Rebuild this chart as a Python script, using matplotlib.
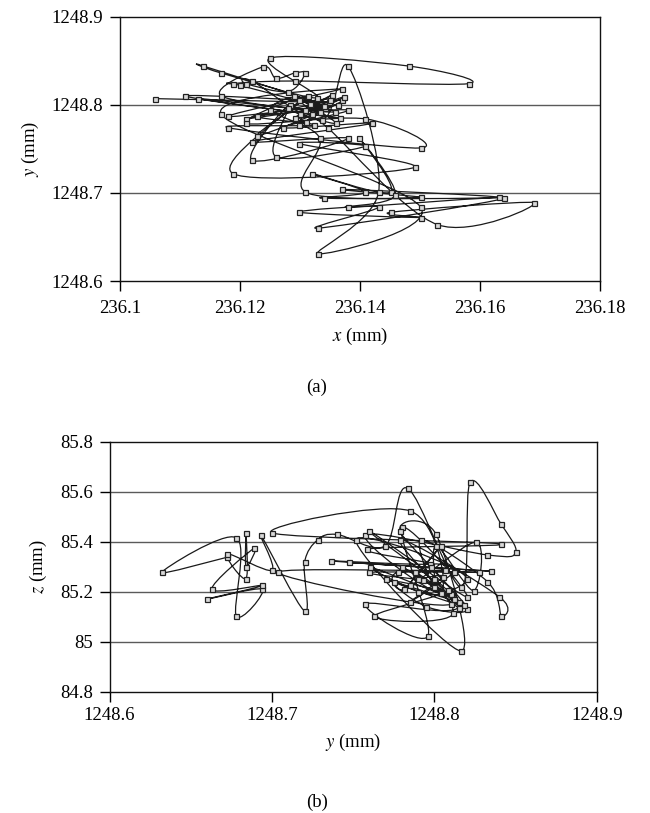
import numpy as np
import matplotlib
matplotlib.use("Agg")
import matplotlib.pyplot as plt
from matplotlib.path import Path
from matplotlib.patches import PathPatch
from matplotlib.ticker import FuncFormatter

plt.rcParams['font.family'] = ['Liberation Serif', 'DejaVu Serif']
plt.rcParams['mathtext.fontset'] = 'stix'

# (a) x-y trajectory, points in drawing order
x_a = [236.1059, 236.1349, 236.1109, 236.1366, 236.1130, 236.1341, 236.1139, 236.1169,
       236.1329, 236.1250, 236.1481, 236.1581, 236.1291, 236.1188, 236.1200, 236.1358,
       236.1169, 236.1238, 236.1260, 236.1291, 236.1309, 236.1280, 236.1210, 236.1220,
       236.1336, 236.1380, 236.1431, 236.1330, 236.1501, 236.1169, 236.1370, 236.1180,
       236.1363, 236.1210, 236.1370, 236.1229, 236.1313, 236.1210, 236.1409, 236.1501,
       236.1180, 236.1324, 236.1229, 236.1380, 236.1272, 236.1420, 236.1220, 236.1380,
       236.1220, 236.1283, 236.1260, 236.1409, 236.1299, 236.1491, 236.1188, 236.1299,
       236.1250, 236.1333, 236.1309, 236.1501, 236.1370, 236.1631, 236.1340, 236.1409,
       236.1320, 236.1451, 236.1399, 236.1459, 236.1380, 236.1640, 236.1330, 236.1431,
       236.1299, 236.1501, 236.1451, 236.1690, 236.1529, 236.1346, 236.1319, 236.1374,
       236.1308, 236.1353, 236.1291, 236.1333, 236.1316, 236.1299, 236.1320, 236.1290,
       236.1360, 236.1280, 236.1350, 236.1310, 236.1340, 236.1300]
y_a = [1248.807, 1248.803, 1248.810, 1248.785, 1248.807, 1248.796, 1248.844, 1248.836,
       1248.808, 1248.853, 1248.844, 1248.824, 1248.827, 1248.824, 1248.822, 1248.792,
       1248.810, 1248.843, 1248.830, 1248.836, 1248.836, 1248.815, 1248.824, 1248.827,
       1248.783, 1248.844, 1248.701, 1248.631, 1248.684, 1248.789, 1248.818, 1248.787,
       1248.800, 1248.784, 1248.805, 1248.765, 1248.810, 1248.779, 1248.784, 1248.751,
       1248.774, 1248.777, 1248.787, 1248.794, 1248.774, 1248.779, 1248.758, 1248.762,
       1248.737, 1248.800, 1248.741, 1248.753, 1248.756, 1248.729, 1248.722, 1248.805,
       1248.794, 1248.762, 1248.701, 1248.695, 1248.704, 1248.695, 1248.694, 1248.701,
       1248.722, 1248.701, 1248.762, 1248.698, 1248.684, 1248.694, 1248.660, 1248.684,
       1248.678, 1248.672, 1248.678, 1248.689, 1248.664, 1248.774, 1248.788, 1248.809,
       1248.794, 1248.811, 1248.785, 1248.792, 1248.801, 1248.777, 1248.790, 1248.810,
       1248.779, 1248.796, 1248.806, 1248.781, 1248.799, 1248.790]

# (b) y-z trajectory
y_b = [1248.6725, 1248.632, 1248.678, 1248.678, 1248.694, 1248.660, 1248.694, 1248.663,
       1248.689, 1248.684, 1248.684, 1248.684, 1248.6725, 1248.700, 1248.693, 1248.720,
       1248.720, 1248.728, 1248.740, 1248.7695, 1248.7835, 1248.8164, 1248.822, 1248.841,
       1248.850, 1248.8326, 1248.7575, 1248.804, 1248.785, 1248.700, 1248.841, 1248.7586,
       1248.797, 1248.736, 1248.8346, 1248.7476, 1248.8065, 1248.7035, 1248.810, 1248.7597,
       1248.820, 1248.780, 1248.796, 1248.7575, 1248.815, 1248.7788, 1248.801, 1248.8164,
       1248.7515, 1248.820, 1248.763, 1248.8116, 1248.7788, 1248.840, 1248.841, 1248.8326,
       1248.792, 1248.800, 1248.801, 1248.824, 1248.8255, 1248.785, 1248.804, 1248.781,
       1248.7774, 1248.8274, 1248.7597, 1248.793, 1248.790, 1248.805, 1248.785, 1248.812,
       1248.798, 1248.820, 1248.795, 1248.775, 1248.810, 1248.790, 1248.760, 1248.815,
       1248.770, 1248.818, 1248.780, 1248.812, 1248.788, 1248.815, 1248.800, 1248.808]
z_b = [85.338, 85.277, 85.416, 85.103, 85.210, 85.170, 85.225, 85.210,
       85.374, 85.300, 85.435, 85.252, 85.351, 85.286, 85.427, 85.123,
       85.317, 85.407, 85.429, 85.383, 85.614, 85.218, 85.638, 85.470,
       85.358, 85.347, 85.427, 85.196, 85.523, 85.435, 85.391, 85.370,
       85.311, 85.323, 85.282, 85.317, 85.286, 85.277, 85.150, 85.442,
       85.179, 85.457, 85.023, 85.151, 85.140, 85.442, 85.429, 84.963,
       85.407, 85.252, 85.103, 85.114, 85.407, 85.179, 85.103, 85.240,
       85.407, 85.220, 85.383, 85.204, 85.398, 85.225, 85.383, 85.210,
       85.277, 85.277, 85.277, 85.247, 85.250, 85.260, 85.160, 85.280,
       85.300, 85.130, 85.140, 85.240, 85.190, 85.200, 85.300, 85.160,
       85.250, 85.145, 85.300, 85.170, 85.280, 85.135, 85.250, 85.205]

xticks_a = [236.1, 236.12, 236.14, 236.16, 236.18]
yticks_a = [1248.6, 1248.7, 1248.8, 1248.9]
yticks_b = [1248.6, 1248.7, 1248.8, 1248.9]
zticks_b = [84.8, 85.0, 85.2, 85.4, 85.6, 85.8]


def smooth_path(xs, ys):
    # Catmull-Rom style smoothing, like spreadsheet "smoothed line"
    p = np.column_stack([xs, ys]).astype(float)
    n = len(p)
    verts = [p[0]]
    codes = [Path.MOVETO]
    for i in range(n - 1):
        p0 = p[i - 1] if i > 0 else p[i]
        p1, p2 = p[i], p[i + 1]
        p3 = p[i + 2] if i + 2 < n else p[i + 1]
        verts += [p1 + (p2 - p0) / 6, p2 - (p3 - p1) / 6, p2]
        codes += [Path.CURVE4] * 3
    return Path(verts, codes)


def style(ax, xticks, yticks, xlab, ylab, xpad):
    ax.set_xlim(xticks[0], xticks[-1])
    ax.set_ylim(yticks[0], yticks[-1])
    ax.set_xticks(xticks)
    ax.set_yticks(yticks)
    fmt = FuncFormatter(lambda v, p: '{:g}'.format(round(v, 4)))
    ax.xaxis.set_major_formatter(fmt)
    ax.yaxis.set_major_formatter(fmt)
    for yv in yticks[1:-1]:
        ax.axhline(yv, color='#5a5a5a', lw=1.0, zorder=0)
    for s in ax.spines.values():
        s.set_linewidth(1.0)
        s.set_color('#111111')
    ax.tick_params(axis='y', direction='out', length=7, width=1.0, pad=5, labelsize=13.5)
    ax.tick_params(axis='x', direction='out', length=7, width=1.0, pad=xpad, labelsize=13.5)
    ax.set_xlabel(xlab, fontsize=13.5, labelpad=6)
    ax.set_ylabel(ylab, fontsize=13.5, labelpad=8)


def draw(ax, xs, ys):
    ax.add_patch(PathPatch(smooth_path(xs, ys), facecolor='none',
                           edgecolor='#1a1a1a', lw=0.9, zorder=2))
    ax.plot(xs, ys, ls='none', marker='s', ms=3.6, mew=0.9,
            mec='#222222', mfc='#d8d8d8', zorder=3)


fig = plt.figure(figsize=(6.5, 8.13), dpi=100)
ax1 = fig.add_axes([120 / 650, 1 - 281 / 813, 480 / 650, 264.3 / 813])
ax2 = fig.add_axes([109.5 / 650, 1 - 691.7 / 813, 487.5 / 650, 250 / 813])

draw(ax1, x_a, y_a)
style(ax1, xticks_a, yticks_a, r'$x$ (mm)', r'$y$ (mm)', 7)

draw(ax2, y_b, z_b)
style(ax2, yticks_b, zticks_b, r'$y$ (mm)', r'$z$ (mm)', 4)

fig.text(317 / 650, 1 - 387 / 813, '(a)', ha='center', va='center', fontsize=13.5)
fig.text(317 / 650, 1 - 802 / 813, '(b)', ha='center', va='center', fontsize=13.5)

fig.savefig('out.png', dpi=100)
